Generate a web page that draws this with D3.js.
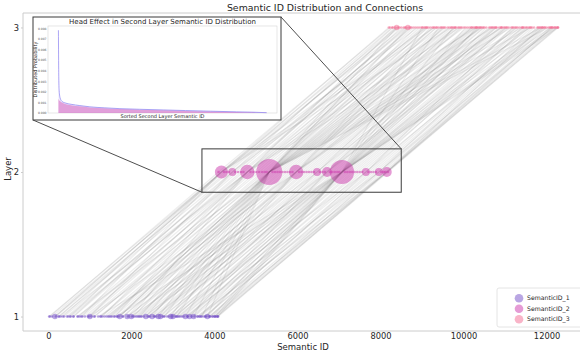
<!DOCTYPE html>
<html>
<head>
<meta charset="utf-8">
<script src="https://cdn.jsdelivr.net/npm/d3@7/dist/d3.min.js"></script>
<style>
  body { margin: 0; background: #fff; }
  svg { display: block; font-family: "DejaVu Sans", sans-serif; }
</style>
</head>
<body>
<svg id="chart" width="580" height="358"></svg>
<script>
// Sampled items: the semantic id each one gets in layer 1, 2 and 3 (same index = same item)
const layer1Ids = [
  // -> 4169
  20, 160, 160, 350, 520, 800,
  // -> 4433
  250, 600, 1000,
  // -> 4793
  300, 480, 720, 950, 1300, 1600, 2000,
  // -> 5321
  700, 1100, 1500, 1720, 1720, 1900, 2050, 2200, 2350, 2500, 2650, 2800, 2950, 3100, 3300, 3500, 3700, 3830,
  // -> 5969
  1000, 1400, 1800, 2150, 2450, 2700, 3000,
  // -> 6473
  1900, 2400, 2900,
  // -> 6713
  2250, 2600, 3080, 3400,
  // -> 7073
  1200, 1650, 2000, 2300, 2550, 2750, 2950, 3150, 3350, 3500, 3650, 3800, 3830, 3950, 4020, 4080,
  // -> 7649
  3000, 3450, 3890,
  // -> 7961
  3300, 3750, 4000,
  // -> 8153
  3600, 3900, 4050, 4090,
  // single items
  40, 90, 260, 180, 450, 380, 610, 540, 820, 760, 980, 880, 1120, 1040, 1250, 1270, 1440, 1350, 1530, 1470,
  1660, 1580, 1790, 1700, 2010, 1920, 2120, 2080, 2230, 2180, 2350, 2420, 2560, 2500, 2700, 2650, 2860, 2780,
  2980, 3060, 3180, 3120, 3260, 3220, 3400, 3360, 3520, 3590, 3680, 3640, 3780, 3870, 3960, 4010, 4070
];

const layer2Ids = [
  4169, 4169, 4169, 4169, 4169, 4169,
  4433, 4433, 4433,
  4793, 4793, 4793, 4793, 4793, 4793, 4793,
  5321, 5321, 5321, 5321, 5321, 5321, 5321, 5321, 5321, 5321, 5321, 5321, 5321, 5321, 5321, 5321, 5321, 5321,
  5969, 5969, 5969, 5969, 5969, 5969, 5969,
  6473, 6473, 6473,
  6713, 6713, 6713, 6713,
  7073, 7073, 7073, 7073, 7073, 7073, 7073, 7073, 7073, 7073, 7073, 7073, 7073, 7073, 7073, 7073,
  7649, 7649, 7649,
  7961, 7961, 7961,
  8153, 8153, 8153, 8153,
  4100, 4230, 4290, 4350, 4500, 4570, 4640, 4700, 4870, 4940, 5010, 5080, 5150, 5210, 5260, 5400, 5460, 5520, 5580, 5640,
  5700, 5760, 5820, 5880, 6040, 6100, 6160, 6220, 6280, 6340, 6400, 6540, 6600, 6660, 6780, 6840, 6900, 6960,
  7010, 7140, 7200, 7260, 7320, 7380, 7440, 7500, 7560, 7710, 7770, 7830, 7890, 8020, 8080, 8120, 8180
];

const layer3Ids = [
  8200, 8390, 8560, 8900, 9300, 9700,
  8300, 8660, 9100,
  8350, 8500, 8800, 9050, 9450, 9900, 10300,
  8390, 8660, 8690, 8850, 9120, 9340, 9560, 9800, 10010, 10240, 10450, 10700, 10930, 11150, 11400, 11620, 11880, 12050,
  9200, 9500, 9780, 10100, 10400, 10650, 10900,
  10200, 10500, 10800,
  10350, 10730, 11050, 11300,
  9000, 9400, 9750, 10050, 10320, 10550, 10780, 11000, 11200, 11430, 11600, 11800, 11950, 12100, 12200, 12270,
  11180, 11500, 11900,
  11700, 12000, 12150,
  11850, 12120, 12230, 12280,
  8230, 8280, 8450, 8420, 8620, 8590, 8750, 8720, 8950, 9010, 9080, 9150, 9250, 9280, 9360, 9470, 9530, 9620, 9660, 9720,
  9820, 9870, 9930, 9960, 10150, 10190, 10270, 10310, 10380, 10420, 10480, 10620, 10680, 10760, 10860, 10910, 10970, 11030,
  11090, 11240, 11270, 11350, 11420, 11460, 11530, 11570, 11650, 11780, 11830, 11910, 11960, 12080, 12130, 12190, 12260
];

const layerNames = ["SemanticID_1", "SemanticID_2", "SemanticID_3"];
const layerTicks = [1, 2, 3];
const xTicks = [0, 2000, 4000, 6000, 8000, 10000, 12000];

// inset: sorted second layer distribution
const insetRank = [0, 6, 15, 35, 70, 130, 250, 420, 620, 900, 1210, 1600, 2060, 2500, 2990, 3500, 3800, 4095];
const insetBlue = [0.0078, 0.0038, 0.0021, 0.0014, 0.0011, 0.00095, 0.00082, 0.00070, 0.00058, 0.00049, 0.00041, 0.00035, 0.00029, 0.00023, 0.00017, 0.00011, 0.00008, 0.00003];
const insetPink = [0.0013, 0.0013, 0.0012, 0.0011, 0.00098, 0.00086, 0.00074, 0.00063, 0.00053, 0.00044, 0.00037, 0.00031, 0.00025, 0.00019, 0.00014, 0.00009, 0.00006, 0.00002];
const insetYTicks = [0, 0.001, 0.002, 0.003, 0.004, 0.005, 0.006, 0.007, 0.008];

const colors = ["#734dc7", "#cb37ab", "#f36991"];

const svg = d3.select("#chart");
const plot = { left: 23, right: 586, top: 13, bottom: 331 };

const x = d3.scaleLinear().domain([-610, 12950]).range([plot.left, plot.right]);
const y = d3.scaleLinear().domain([0.9, 3.1]).range([plot.bottom, plot.top]);

const root = svg.append("g");

// connections between layers
const paths = layer1Ids.map((id, i) => [[id, 1], [layer2Ids[i], 2], [layer3Ids[i], 3]]);
const link = d3.line().x(d => x(d[0])).y(d => y(d[1]));

root.append("g")
  .selectAll("path")
  .data(paths)
  .join("path")
  .attr("d", link)
  .attr("fill", "none")
  .attr("stroke", "#3c3c3c")
  .attr("stroke-opacity", 0.085)
  .attr("stroke-width", 1.2);

// points per layer, size by frequency
const r = d3.scaleSqrt().domain([1, 18]).range([1.3, 13]);
[layer1Ids, layer2Ids, layer3Ids].forEach((ids, li) => {
  const counts = Array.from(d3.rollup(ids, v => v.length, d => d), ([id, n]) => ({ id, n }))
    .sort((a, b) => b.n - a.n);
  root.append("g")
    .selectAll("circle")
    .data(counts)
    .join("circle")
    .attr("cx", d => x(d.id))
    .attr("cy", y(li + 1))
    .attr("r", d => r(d.n))
    .attr("fill", colors[li])
    .attr("fill-opacity", 0.5);
});

// spines
const spine = root.append("g").attr("stroke", "#cccccc").attr("fill", "none");
spine.append("line").attr("x1", plot.left).attr("x2", plot.left).attr("y1", plot.top).attr("y2", plot.bottom);
spine.append("line").attr("x1", plot.left).attr("x2", plot.right).attr("y1", plot.bottom).attr("y2", plot.bottom);
spine.append("line").attr("x1", plot.left).attr("x2", plot.right).attr("y1", plot.top).attr("y2", plot.top);

// axes
const xAxis = root.append("g")
  .attr("transform", `translate(0,${plot.bottom})`)
  .call(d3.axisBottom(x).tickValues(xTicks).tickSize(0).tickPadding(2).tickFormat(d3.format("d")));
const yAxis = root.append("g")
  .attr("transform", `translate(${plot.left},0)`)
  .call(d3.axisLeft(y).tickValues(layerTicks).tickSize(2).tickPadding(2).tickFormat(d3.format("d")));
[xAxis, yAxis].forEach(a => {
  a.select(".domain").remove();
  a.selectAll(".tick line").attr("stroke", "#cccccc");
  a.selectAll(".tick text").attr("fill", "#262626").style("font-size", "8.3px").style("font-family", "DejaVu Sans");
});

root.append("text")
  .attr("x", 303).attr("y", 349.5)
  .attr("text-anchor", "middle")
  .attr("fill", "#262626")
  .style("font-size", "8.5px")
  .text("Semantic ID");

root.append("text")
  .attr("transform", `translate(11,${y(2) - 3}) rotate(-90)`)
  .attr("text-anchor", "middle")
  .attr("fill", "#262626")
  .style("font-size", "8.5px")
  .text("Layer");

root.append("text")
  .attr("x", 325).attr("y", 10.5)
  .attr("text-anchor", "middle")
  .attr("fill", "#262626")
  .style("font-size", "9.4px")
  .text("Semantic ID Distribution and Connections");

// zoom region around layer 2 and connectors to inset
const zoomBox = { x0: 3700, x1: 8500, y0: 1.86, y1: 2.16 };
const inset = { left: 33, right: 281, top: 17, bottom: 120 };

root.append("rect")
  .attr("x", x(zoomBox.x0)).attr("y", y(zoomBox.y1))
  .attr("width", x(zoomBox.x1) - x(zoomBox.x0))
  .attr("height", y(zoomBox.y0) - y(zoomBox.y1))
  .attr("fill", "none")
  .attr("stroke", "#3a3a3a")
  .attr("stroke-width", 1);

root.append("line")
  .attr("x1", inset.right).attr("y1", inset.top)
  .attr("x2", x(zoomBox.x1)).attr("y2", y(zoomBox.y1))
  .attr("stroke", "#3a3a3a").attr("stroke-width", 0.9);
root.append("line")
  .attr("x1", inset.left).attr("y1", inset.bottom)
  .attr("x2", x(zoomBox.x0)).attr("y2", y(zoomBox.y0))
  .attr("stroke", "#3a3a3a").attr("stroke-width", 0.9);

// inset chart
const ig = root.append("g");
ig.append("rect")
  .attr("x", inset.left).attr("y", inset.top)
  .attr("width", inset.right - inset.left).attr("height", inset.bottom - inset.top)
  .attr("fill", "#fff").attr("stroke", "#3a3a3a").attr("stroke-width", 1);

const ip = { left: 48, right: 277, top: 26, bottom: 113 };
const ix = d3.scaleLinear().domain([-205, 4300]).range([ip.left, ip.right]);
const iy = d3.scaleLinear().domain([0, 0.0082]).range([ip.bottom, ip.top]);

ig.append("rect")
  .attr("x", ip.left).attr("y", ip.top)
  .attr("width", ip.right - ip.left).attr("height", ip.bottom - ip.top)
  .attr("fill", "none").attr("stroke", "#d5d5d5").attr("stroke-width", 0.6);

const blueData = insetRank.map((k, i) => [k, insetBlue[i]]);
const pinkData = insetRank.map((k, i) => [k, insetPink[i]]);
const iArea = d3.area().x(d => ix(d[0])).y0(iy(0)).y1(d => iy(d[1])).curve(d3.curveMonotoneX);
const iLine = d3.line().x(d => ix(d[0])).y(d => iy(d[1])).curve(d3.curveMonotoneX);

ig.append("path").datum(blueData).attr("d", iArea).attr("fill", "#9a8cf2").attr("fill-opacity", 0.18);
ig.append("path").datum(pinkData).attr("d", iArea).attr("fill", "#d654b8").attr("fill-opacity", 0.5);
ig.append("path").datum(blueData).attr("d", iLine).attr("fill", "none").attr("stroke", "#8a80f0").attr("stroke-width", 0.7);

const iyAxis = ig.append("g")
  .attr("transform", `translate(${ip.left},0)`)
  .call(d3.axisLeft(iy).tickValues(insetYTicks).tickSize(0).tickPadding(1.5).tickFormat(d3.format(".3f")));
iyAxis.select(".domain").remove();
iyAxis.selectAll(".tick text").attr("fill", "#555").style("font-size", "3px").style("font-family", "DejaVu Sans");

ig.append("text")
  .attr("x", (ip.left + ip.right) / 2).attr("y", 23.5)
  .attr("text-anchor", "middle").attr("fill", "#262626")
  .style("font-size", "7px")
  .text("Head Effect in Second Layer Semantic ID Distribution");
ig.append("text")
  .attr("x", (ip.left + ip.right) / 2).attr("y", 118)
  .attr("text-anchor", "middle").attr("fill", "#262626")
  .style("font-size", "5px")
  .text("Sorted Second Layer Semantic ID");
ig.append("text")
  .attr("transform", `translate(36.5,${(ip.top + ip.bottom) / 2}) rotate(-90)`)
  .attr("text-anchor", "middle").attr("fill", "#262626")
  .style("font-size", "5px")
  .text("Distributed Probability");

// legend
const lg = root.append("g");
lg.append("rect")
  .attr("x", 497).attr("y", 288).attr("width", 95).attr("height", 39).attr("rx", 2)
  .attr("fill", "#fff").attr("fill-opacity", 0.85)
  .attr("stroke", "#dddddd").attr("stroke-width", 0.8);
const items = lg.selectAll("g.item").data(layerNames).join("g")
  .attr("class", "item")
  .attr("transform", (d, i) => `translate(519,${298.3 + i * 10.5})`);
items.append("circle").attr("r", 4.3)
  .attr("fill", (d, i) => colors[i]).attr("fill-opacity", 0.5);
items.append("text").attr("x", 8).attr("dy", "0.35em")
  .attr("fill", "#262626").style("font-size", "6.2px")
  .text(d => d);
</script>
</body>
</html>
